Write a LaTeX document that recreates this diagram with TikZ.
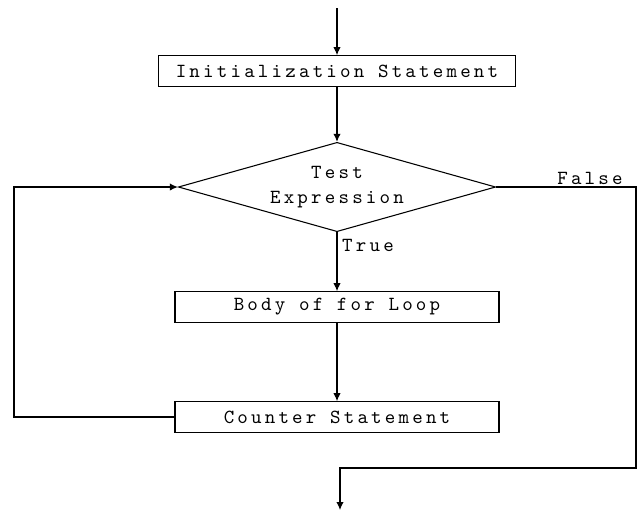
\documentclass[tikz,border=0pt]{standalone}
\usepackage{fontspec}
\newfontfamily\flowfont{lmmono10-regular}[Extension=.otf, LetterSpace=16]
\usepackage{tikz}
\usetikzlibrary{shapes, arrows.meta, positioning, calc}

\begin{document}
\begin{tikzpicture}[
		x=0.75pt,y=-0.75pt,
		every node/.style={font=\flowfont\fontsize{15}{19}\selectfont},
		stmt/.style={draw, rectangle, minimum width=243pt, minimum height=23pt, inner sep=0pt, line width=0.8pt},
		test/.style={draw, diamond, aspect=3.6, minimum width=238pt, minimum height=67pt, inner sep=0pt, align=center, line width=0.8pt},
		flow/.style={draw, line width=0.8pt, -{Latex[length=6pt,width=5.5pt]}}
	]
	\useasboundingbox (0,0) rectangle (639,512);

	% boxes
	\node[stmt, minimum width=268pt] (init) at (337,71) {Initialization Statement};
	\node[test] (cond) at (337,187) {Test\\Expression};
	\node[stmt] (body) at (337,307) {Body of for Loop};
	\node[stmt] (count) at (337,417) {Counter Statement};

	% free ends
	\coordinate (start) at (337,8);
	\coordinate (back) at (14,417);
	\coordinate (fturn) at (636,468);
	\coordinate (stop) at (340,510);

	% labels
	\node (truelbl) at (368,245) {True};
	\node (falselbl) at (590,178) {False};

	% connectors
	\draw[flow] (start) -- (init);
	\draw[flow] (init) -- (cond);
	\draw[flow] (cond) -- (body);
	\draw[flow] (body) -- (count);
	\draw[flow] (count.west) -- (back) |- (cond.west);
	\draw[flow] (cond.east) -| (fturn) -| (stop);
\end{tikzpicture}
\end{document}
